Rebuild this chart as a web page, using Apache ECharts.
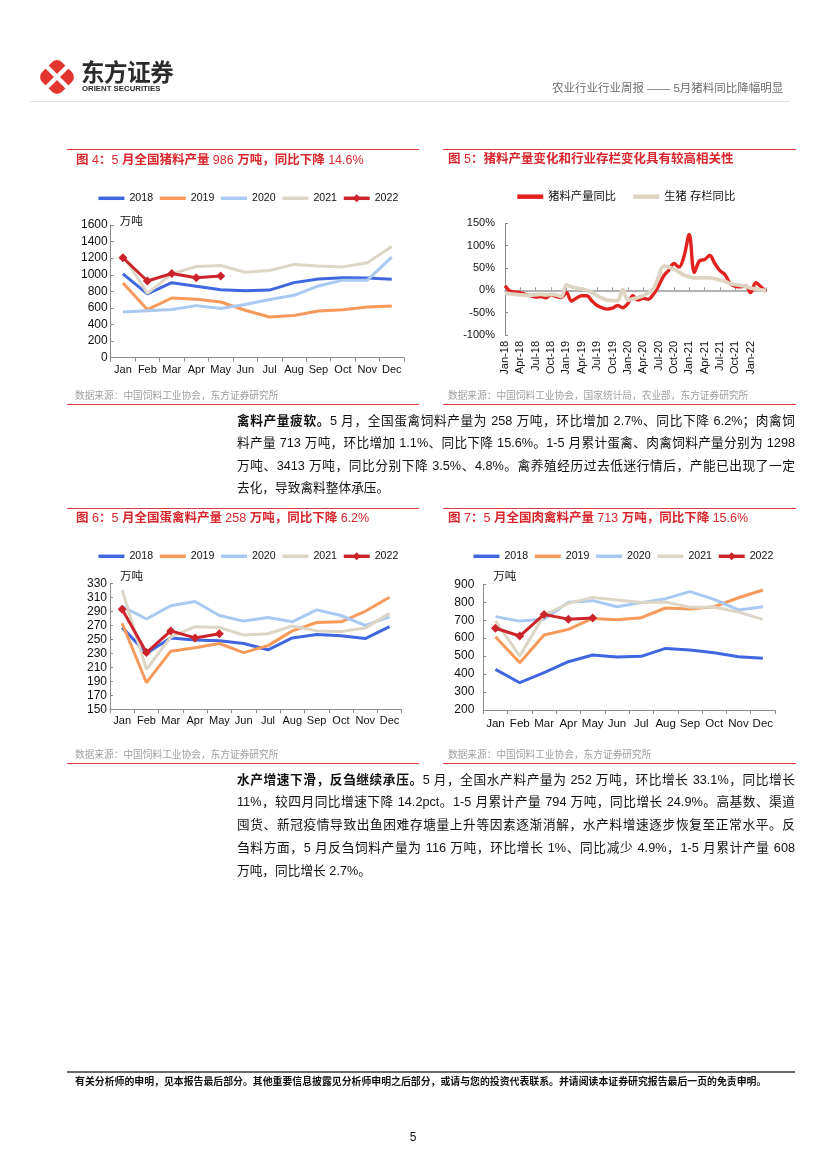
<!DOCTYPE html>
<html><head><meta charset="utf-8">
<script src="https://cdn.jsdelivr.net/npm/echarts@6/dist/echarts.min.js"></script>
<style>
body{margin:0;background:#fff;}
#page{position:relative;width:827px;height:1169px;overflow:hidden;font-family:"Liberation Sans","Noto Sans CJK SC",sans-serif;color:#111;}
.abs{position:absolute;}
.rline{position:absolute;height:1px;background:#e0393e;}
.title{position:absolute;font-size:12.5px;line-height:16px;color:#d9262c;font-weight:bold;white-space:nowrap;z-index:3;}
.title span{font-weight:normal;}
.src{position:absolute;font-size:9.7px;line-height:12px;color:#a0a0a0;white-space:nowrap;z-index:3;}
.para{position:absolute;left:237px;width:558px;font-size:12.7px;z-index:3;}
.para div{text-align:justify;text-align-last:justify;}
.para div.last{text-align:left;text-align-last:left;}
#chart{position:absolute;left:0;top:0;width:827px;height:1169px;z-index:2;}
</style></head>
<body><div id="page">
<!-- header -->
<svg class="abs" style="left:37px;top:57px;z-index:3" width="40" height="40" viewBox="0 0 40 40">
  <rect x="6" y="6" width="28" height="28" rx="7" ry="7" fill="#e2352f" transform="rotate(45 20 20)"/>
  <line x1="7" y1="7" x2="33" y2="33" stroke="#fff" stroke-width="4.5"/>
  <line x1="33" y1="7" x2="7" y2="33" stroke="#fff" stroke-width="4.5"/>
</svg>
<div class="abs" style="left:81px;top:58px;font-size:23.5px;line-height:27px;font-weight:bold;color:#2b2b2b;letter-spacing:-0.4px;font-family:'Noto Sans CJK SC';z-index:3">东方证券</div>
<div class="abs" style="left:82px;top:84px;font-size:7.8px;line-height:9px;font-weight:bold;color:#2b2b2b;white-space:nowrap;z-index:3">ORIENT SECURITIES</div>
<div class="abs" style="left:552px;top:81px;font-size:11.5px;line-height:14px;color:#6e6e6e;white-space:nowrap;z-index:3">农业行业行业周报 —— 5月猪料同比降幅明显</div>
<div class="abs" style="left:30px;top:101px;width:760px;height:1px;background:#e3e3e3"></div>

<!-- chart frames -->
<div class="rline" style="left:67px;top:149px;width:352px"></div>
<div class="rline" style="left:443px;top:149px;width:353px"></div>
<div class="title" style="left:76px;top:152px">图 <span>4</span>：<span>5</span> 月全国猪料产量 <span>986</span> 万吨，同比下降 <span>14.6%</span></div>
<div class="title" style="left:448px;top:151px">图 <span>5</span>：猪料产量变化和行业存栏变化具有较高相关性</div>
<div class="src" style="left:75px;top:390px">数据来源：中国饲料工业协会，东方证券研究所</div>
<div class="src" style="left:448px;top:390px">数据来源：中国饲料工业协会，国家统计局，农业部，东方证券研究所</div>
<div class="rline" style="left:67px;top:404px;width:352px"></div>
<div class="rline" style="left:443px;top:404px;width:353px"></div>

<div class="para" style="top:410px;line-height:22.4px">
<div><b>禽料产量疲软。</b>5 月，全国蛋禽饲料产量为 258 万吨，环比增加 2.7%、同比下降 6.2%；肉禽饲</div>
<div>料产量 713 万吨，环比增加 1.1%、同比下降 15.6%。1-5 月累计蛋禽、肉禽饲料产量分别为 1298</div>
<div>万吨、3413 万吨，同比分别下降 3.5%、4.8%。禽养殖经历过去低迷行情后，产能已出现了一定</div>
<div class="last">去化，导致禽料整体承压。</div>
</div>

<div class="rline" style="left:67px;top:508px;width:352px"></div>
<div class="rline" style="left:443px;top:508px;width:353px"></div>
<div class="title" style="left:76px;top:510px">图 <span>6</span>：<span>5</span> 月全国蛋禽料产量 <span>258</span> 万吨，同比下降 <span>6.2%</span></div>
<div class="title" style="left:448px;top:510px">图 <span>7</span>：<span>5</span> 月全国肉禽料产量 <span>713</span> 万吨，同比下降 <span>15.6%</span></div>
<div class="src" style="left:75px;top:749px">数据来源：中国饲料工业协会，东方证券研究所</div>
<div class="src" style="left:448px;top:749px">数据来源：中国饲料工业协会，东方证券研究所</div>
<div class="rline" style="left:67px;top:763px;width:352px"></div>
<div class="rline" style="left:443px;top:763px;width:353px"></div>

<div class="para" style="top:768.5px;line-height:22.75px">
<div><b>水产增速下滑，反刍继续承压。</b>5 月，全国水产料产量为 252 万吨，环比增长 33.1%，同比增长</div>
<div>11%，较四月同比增速下降 14.2pct。1-5 月累计产量 794 万吨，同比增长 24.9%。高基数、渠道</div>
<div>囤货、新冠疫情导致出鱼困难存塘量上升等因素逐渐消解，水产料增速逐步恢复至正常水平。反</div>
<div>刍料方面，5 月反刍饲料产量为 116 万吨，环比增长 1%、同比减少 4.9%，1-5 月累计产量 608</div>
<div class="last">万吨，同比增长 2.7%。</div>
</div>

<!-- footer -->
<div class="abs" style="left:67px;top:1071px;width:728px;height:2px;background:#6a6a6a"></div>
<div class="abs" style="left:75px;top:1076px;font-size:9.9px;line-height:12px;font-weight:bold;color:#111;white-space:nowrap;z-index:3">有关分析师的申明，见本报告最后部分。其他重要信息披露见分析师申明之后部分，或请与您的投资代表联系。并请阅读本证券研究报告最后一页的免责申明。</div>
<div class="abs" style="left:400px;top:1129px;width:26px;text-align:center;font-size:12px;line-height:16px;color:#111;z-index:3">5</div>

<div id="chart"></div>
</div>
<script>
// ---------- data ----------
const months = ['Jan','Feb','Mar','Apr','May','Jun','Jul','Aug','Sep','Oct','Nov','Dec'];
const years = ['2018','2019','2020','2021','2022'];
const yearColors = ['#4067e0','#f69a5b','#a9c9f2','#ddd6c6','#cb242b'];

// Fig 4: pig feed output (10k tonnes)
const pig2018 = [1010, 770, 905, 862, 818, 808, 815, 905, 950, 965, 962, 945];
const pig2019 = [900, 580, 720, 705, 672, 572, 490, 510, 562, 578, 612, 622];
const pig2020 = [552, 565, 580, 628, 592, 642, 702, 752, 865, 935, 935, 1212];
const pig2021 = [1240, 775, 1010, 1100, 1112, 1030, 1052, 1125, 1105, 1095, 1145, 1342];
const pig2022 = [1205, 925, 1015, 965, 986];
const yTicks4 = [0, 200, 400, 600, 800, 1000, 1200, 1400, 1600];

// Fig 5: YoY (%)
const corrMonths = ['Jan-18','Feb-18','Mar-18','Apr-18','May-18','Jun-18','Jul-18','Aug-18','Sep-18','Oct-18','Nov-18','Dec-18',
  'Jan-19','Feb-19','Mar-19','Apr-19','May-19','Jun-19','Jul-19','Aug-19','Sep-19','Oct-19','Nov-19','Dec-19',
  'Jan-20','Feb-20','Mar-20','Apr-20','May-20','Jun-20','Jul-20','Aug-20','Sep-20','Oct-20','Nov-20','Dec-20',
  'Jan-21','Feb-21','Mar-21','Apr-21','May-21','Jun-21','Jul-21','Aug-21','Sep-21','Oct-21','Nov-21','Dec-21',
  'Jan-22','Feb-22','Mar-22','Apr-22'];
const pigFeedYoY = [10, -2, -4, -5, -9, -12, -15, -14, -17, -10, -14, -16,
  -5, -24, -17, -12, -12, -24, -34, -39, -42, -40, -34, -39,
  -30, -12, -22, -18, -20, -9, 10, 32, 45, 60, 52, 77,
  125, 40, 66, 69, 78, 60, 44, 35, 15, 9, 8, 10,
  -5, 17, 8, -3];
const hogInvYoY = [-7, -8, -9, -10, -11, -11, -10, -9, -10, -9, -10, -14,
  12, 8, 5, 3, 0, -5, -12, -18, -22, -23, -23, 2,
  -22, -19, -16, -12, -6, 3, 30, 54, 52, 47, 41, 34,
  30, 28, 28, 28, 28, 26, 23, 20, 15, 13, 11, 9,
  5, 3, 1, 0];
const yTicks5 = [-100, -50, 0, 50, 100, 150];

// Fig 6: layer feed output
const layer2018 = [267, 230, 252, 249, 248, 244, 235, 252, 257, 255, 251, 268];
const layer2019 = [273, 188, 233, 238, 244, 231, 241, 262, 274, 275, 290, 310];
const layer2020 = [297, 279, 298, 304, 284, 276, 281, 275, 292, 284, 270, 282];
const layer2021 = [320, 207, 253, 268, 267, 256, 258, 269, 262, 261, 266, 287];
const layer2022 = [293, 231, 262, 252, 258];
const yTicks6 = [150, 170, 190, 210, 230, 250, 270, 290, 310, 330];

// Fig 7: broiler feed output
const broiler2018 = [426, 352, 408, 469, 506, 495, 499, 543, 534, 519, 497, 488];
const broiler2019 = [608, 463, 618, 649, 710, 703, 714, 768, 762, 775, 825, 868];
const broiler2020 = [720, 695, 705, 800, 809, 775, 798, 820, 859, 816, 757, 775];
const broiler2021 = [697, 500, 729, 794, 827, 812, 798, 801, 772, 772, 746, 705];
const broiler2022 = [655, 612, 732, 706, 713];
const yTicks7 = [200, 300, 400, 500, 600, 700, 800, 900];

// ---------- chart ----------
const FONT = '"Liberation Sans","Noto Sans CJK SC",sans-serif';
const axisGray = '#8c8c8c';
const chart = echarts.init(document.getElementById('chart'), null, {renderer:'canvas'});

const grids = [
  {left:110.7, top:225, width:293.3, height:132.7},
  {left:505, top:223.3, width:261, height:111.7},
  {left:110, top:583.3, width:291.7, height:126},
  {left:483.3, top:584.3, width:291.7, height:125.7}
];

function plain(v){ return String(v); }

function monthAxis(gi, fs, margin){
  return {type:'category', gridIndex:gi, data:months, boundaryGap:true,
    axisLine:{lineStyle:{color:axisGray}},
    axisTick:{show:true, length:4, inside:false, interval:0, lineStyle:{color:axisGray}},
    axisLabel:{interval:0, fontSize:fs, color:'#111', margin:margin, fontFamily:FONT},
    splitLine:{show:false}};
}
function valAxis(gi, ticks, margin, nameGap, namePad){
  return {type:'value', gridIndex:gi, min:ticks[0], max:ticks[ticks.length-1],
    name:'万吨', nameLocation:'end', nameGap:nameGap,
    nameTextStyle:{align:'left', verticalAlign:'middle', fontSize:11.5, color:'#111', padding:[0,0,0,namePad], fontFamily:FONT},
    axisLine:{show:true, lineStyle:{color:axisGray}},
    axisTick:{show:true, inside:true, length:3, customValues:ticks, lineStyle:{color:axisGray}},
    axisLabel:{fontSize:12, color:'#111', margin:margin, customValues:ticks, fontFamily:FONT, formatter:plain},
    splitLine:{show:false}};
}
function yearSeries(name, data, color, xi, yi){
  const isLast = name === '2022';
  return {name:name, type:'line', xAxisIndex:xi, yAxisIndex:yi, data:data,
    smooth:false, symbol: isLast ? 'diamond' : 'none', symbolSize: isLast ? 9 : 0,
    showSymbol: isLast,
    lineStyle:{width:3, color:color}, itemStyle:{color:color},
    emphasis:{disabled:true}, z: isLast ? 5 : 2};
}
const noDot = {color:'rgba(0,0,0,0)', borderWidth:0};
function yearLegend(left, top){
  return {left:left, top:top, padding:0, itemWidth:26, itemHeight:10, itemGap:5,
    lineStyle:{width:3.5},
    data:years.map(function(y){ return y === '2022' ? {name:y} : {name:y, itemStyle:noDot}; }),
    textStyle:{fontSize:10.6, color:'#111', fontFamily:FONT}, selectedMode:false};
}

const xAxes = [
  monthAxis(0, 11, 7),
  {type:'category', gridIndex:1, data:corrMonths, boundaryGap:false, position:'bottom',
    axisLine:{show:false, onZero:false}, axisTick:{show:false},
    axisLabel:{rotate:90, fontSize:11, color:'#111', margin:6, fontFamily:FONT,
      interval:function(i){ return i % 3 === 0 && i <= 48; }},
    splitLine:{show:false}},
  {type:'category', gridIndex:1, data:corrMonths, boundaryGap:false, position:'top',
    axisLine:{show:true, onZero:true, lineStyle:{color:'#999', width:1.5}},
    axisTick:{show:true, inside:false, length:3, interval:2, lineStyle:{color:'#999'}},
    axisLabel:{show:false}, splitLine:{show:false}},
  monthAxis(2, 11, 6),
  monthAxis(3, 11.5, 8)
];
const yAxes = [
  valAxis(0, yTicks4, 3, 3, 9),
  {type:'value', gridIndex:1, min:yTicks5[0], max:yTicks5[yTicks5.length-1], interval:50,
    axisLine:{show:true, lineStyle:{color:axisGray}},
    axisTick:{show:true, inside:true, length:3, lineStyle:{color:axisGray}},
    axisLabel:{fontSize:11, color:'#111', margin:10, fontFamily:FONT, formatter:function(v){return v+'%';}},
    splitLine:{show:false}},
  valAxis(2, yTicks6, 3, 6, 10),
  valAxis(3, yTicks7, 9, 7, 10)
];

const series = [];
const set4 = [pig2018, pig2019, pig2020, pig2021, pig2022];
const set6 = [layer2018, layer2019, layer2020, layer2021, layer2022];
const set7 = [broiler2018, broiler2019, broiler2020, broiler2021, broiler2022];
years.forEach(function(y, i){ series.push(yearSeries(y, set4[i], yearColors[i], 0, 0)); });
years.forEach(function(y, i){ series.push(yearSeries(y, set6[i], yearColors[i], 3, 2)); });
years.forEach(function(y, i){ series.push(yearSeries(y, set7[i], yearColors[i], 4, 3)); });
series.push({name:'生猪 存栏同比', type:'line', xAxisIndex:1, yAxisIndex:1, data:hogInvYoY,
  smooth:0.35, showSymbol:false, symbol:'none', lineStyle:{width:3.8, color:'#ddd5c2'}, itemStyle:{color:'#ddd5c2'}, z:3});
series.push({name:'猪料产量同比', type:'line', xAxisIndex:1, yAxisIndex:1, data:pigFeedYoY,
  smooth:0.35, showSymbol:false, symbol:'none', lineStyle:{width:3.4, color:'#e1221f'}, itemStyle:{color:'#e1221f'}, z:2});

const option = {
  animation:false,
  textStyle:{fontFamily:FONT},
  grid:grids,
  xAxis:xAxes,
  yAxis:yAxes,
  legend:[
    yearLegend(96.7, 193),
    {left:515, top:191, padding:0, itemWidth:26, itemHeight:10, itemGap:15, selectedMode:false,
      lineStyle:{width:4.5},
      data:[{name:'猪料产量同比', itemStyle:noDot},{name:'生猪 存栏同比', itemStyle:noDot}],
      textStyle:{fontSize:11.3, color:'#111', fontFamily:FONT}},
    yearLegend(96.7, 551),
    yearLegend(471.7, 551)
  ],
  series:series
};
chart.setOption(option);
</script>
</body></html>
